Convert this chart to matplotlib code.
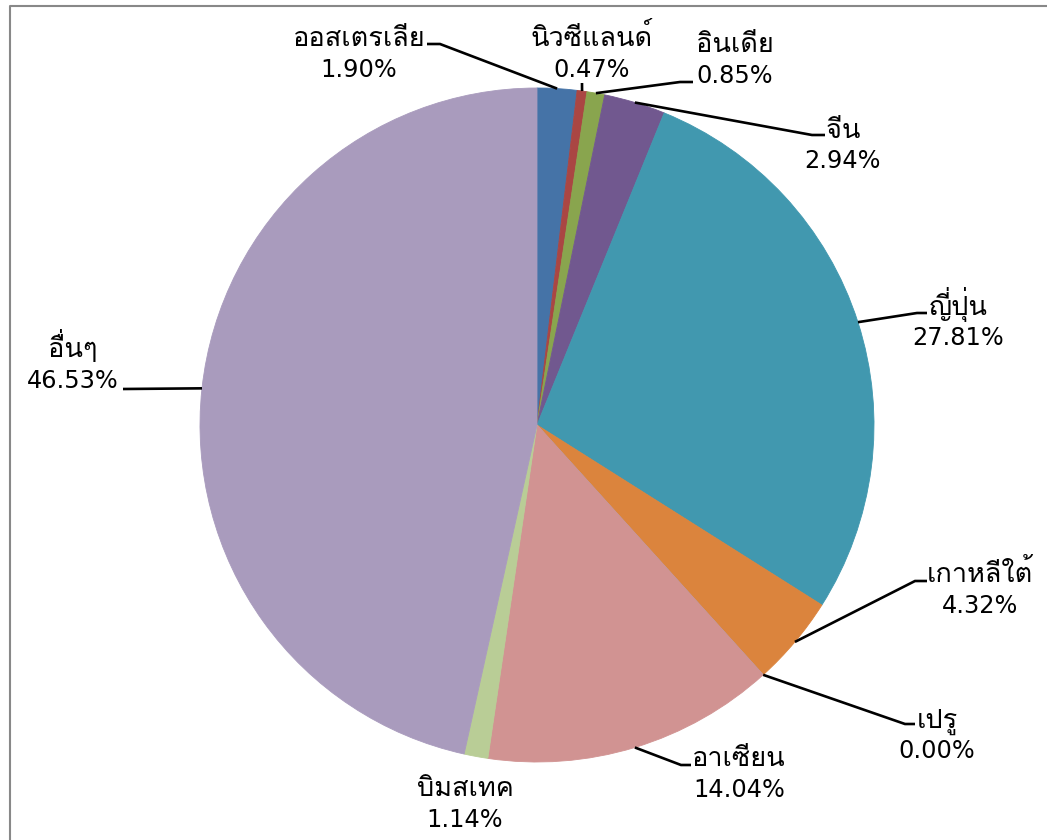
import matplotlib
matplotlib.use("Agg")
import matplotlib.pyplot as plt
import numpy as np
from matplotlib import font_manager as fm
from matplotlib.ft2font import FT2Font

# ---------------- data ----------------
categories = ["ออสเตรเลีย", "นิวซีแลนด์", "อินเดีย", "จีน", "ญี่ปุ่น",
              "เกาหลีใต้", "เปรู", "อาเซียน", "บิมสเทค", "อื่นๆ"]
shares = [1.90, 0.47, 0.85, 2.94, 27.81, 4.32, 0.00, 14.04, 1.14, 46.53]
pct_labels = ["1.90%", "0.47%", "0.85%", "2.94%", "27.81%",
              "4.32%", "0.00%", "14.04%", "1.14%", "46.53%"]
colors = ["#4573A7", "#AA4643", "#89A54E", "#71588F", "#4198AF",
          "#DB843D", "#93A9CF", "#D19392", "#B9CD96", "#A99BBD"]

# ---------------- find a font with Thai glyphs ----------------
preferred = ["Tahoma", "Leelawadee UI", "Leelawadee", "Loma",
             "Noto Sans Thai", "Noto Sans Thai UI", "Garuda", "Sarabun",
             "Waree", "Kinnari", "Norasi", "Tlwg Typo"]
installed = {f.name for f in fm.fontManager.ttflist}
thai_family = None
for p in preferred:
    if p in installed:
        thai_family = p
        break
if thai_family is None:
    for f in fm.fontManager.ttflist:
        try:
            cm = FT2Font(f.fname).get_charmap()
            if 0x0E01 in cm and 0x0E35 in cm:
                thai_family = f.name
                break
        except Exception:
            pass
thai_fams = ([thai_family] if thai_family else []) + ["DejaVu Sans"]
plt.rcParams["font.family"] = thai_fams

# ---------------- layout (pixel space) ----------------
W, H = 1047, 840
CX, CY, R = 537, 425, 337
FS_THAI = 19.5
FS_NUM = 17.3
PITCH = 30.5

# label: (x center, baseline of percent line)
label_pos = [(359, 77), (592, 77), (735, 83), (843, 168), (958, 345),
             (980, 613), (937, 758), (739, 797), (465, 827), (73, 388)]
# leader points after the wedge anchor (None => no leader)
leaders = [
    [(440, 44), (427, 44)],
    [(582, 83)],
    [(680, 82), (693, 82)],
    [(812, 135), (825, 135)],
    [(917, 313), (927, 313)],
    [(915, 581), (927, 581)],
    [(905, 724), (915, 724)],
    [(681, 765), (691, 765)],
    None,
    [(123, 389)],
]

fig = plt.figure(figsize=(W / 100, H / 100), dpi=100)
ax = fig.add_axes([0, 0, 1, 1])

wedges, _ = ax.pie(shares, colors=colors, startangle=-90, counterclock=True,
                   center=(CX, CY), radius=R,
                   wedgeprops=dict(linewidth=0.6))
for w in wedges:
    w.set_edgecolor(w.get_facecolor())
ax.set_xlim(0, W)
ax.set_ylim(H, 0)
ax.set_aspect("equal")
ax.axis("off")

for i, w in enumerate(wedges):
    mid = np.deg2rad((w.theta1 + w.theta2) / 2)
    ax_ = CX + R * np.cos(mid)
    ay_ = CY + R * np.sin(mid)
    if leaders[i]:
        xs = [ax_] + [p[0] for p in leaders[i]]
        ys = [ay_] + [p[1] for p in leaders[i]]
        ax.plot(xs, ys, color="black", lw=1.9, solid_capstyle="butt",
                solid_joinstyle="miter", zorder=5)
    x, yb = label_pos[i]
    ax.text(x, yb - PITCH, categories[i], ha="center", va="baseline",
            fontsize=FS_THAI, color="black", family=thai_fams)
    ax.text(x, yb, pct_labels[i], ha="center", va="baseline",
            fontsize=FS_NUM, color="black", family="DejaVu Sans")

# chart-area border (partially cropped)
ax.plot([9.5, 9.5, W + 20], [H + 20, 5.5, 5.5], color="#888888", lw=1.5,
        clip_on=False, zorder=6)

fig.savefig("out.png", dpi=100)
